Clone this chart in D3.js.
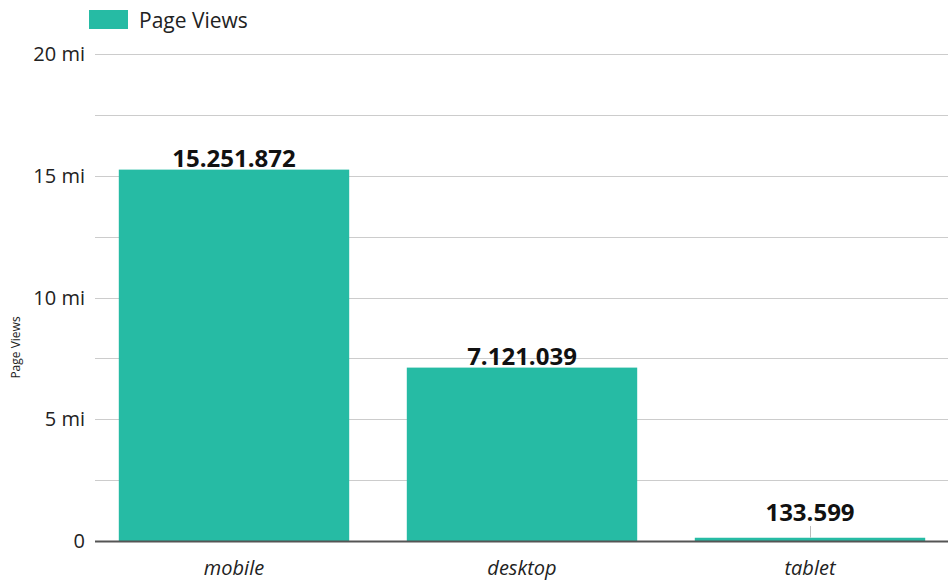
<!DOCTYPE html>
<html>
<head>
<meta charset="utf-8">
<script src="https://cdn.jsdelivr.net/npm/d3@7"></script>
<style>
  body { margin: 0; background: #fff; }
  svg { font-family: "Open Sans", sans-serif; }
</style>
</head>
<body>
<div id="chart"></div>
<script>
// data
const categories = ["mobile", "desktop", "tablet"];
const pageViews = [15251872, 7121039, 133599];
const yTicks = [0, 5000000, 10000000, 15000000, 20000000];
const yTickLabels = ["0", "5 mi", "10 mi", "15 mi", "20 mi"];
const seriesName = "Page Views";

const width = 948, height = 581;
const margin = { top: 54, right: 0, bottom: 40, left: 95 };
const barColor = "#26bba4";

const svg = d3.select("#chart").append("svg")
  .attr("width", width)
  .attr("height", height);

const x = d3.scaleBand()
  .domain(categories)
  .range([90, 954])
  .paddingInner(0.2)
  .paddingOuter(0.1);

const y = d3.scaleLinear()
  .domain([0, 20000000])
  .range([height - margin.bottom, margin.top]);

// gridlines (major + minor halfway)
const gridVals = d3.range(0, 20000001, 2500000);
svg.append("g")
  .selectAll("line")
  .data(gridVals)
  .join("line")
    .attr("x1", margin.left)
    .attr("x2", width)
    .attr("y1", d => Math.round(y(d)) + 0.5)
    .attr("y2", d => Math.round(y(d)) + 0.5)
    .attr("stroke", "#cccccc")
    .attr("stroke-width", 1);

// y axis labels
svg.append("g")
  .selectAll("text")
  .data(yTicks)
  .join("text")
    .attr("x", 85)
    .attr("y", d => y(d))
    .attr("dy", "0.35em")
    .attr("text-anchor", "end")
    .attr("font-size", 20)
    .attr("fill", "#222")
    .text((d, i) => yTickLabels[i]);

// y axis title
svg.append("text")
  .attr("transform", `translate(20, ${(y(0) + y(20000000)) / 2 + 50}) rotate(-90)`)
  .attr("text-anchor", "middle")
  .attr("font-size", 12)
  .attr("fill", "#222")
  .text(seriesName);

// bars
svg.append("g")
  .selectAll("rect")
  .data(pageViews)
  .join("rect")
    .attr("x", (d, i) => x(categories[i]))
    .attr("width", x.bandwidth())
    .attr("y", d => y(d))
    .attr("height", d => y(0) - y(d))
    .attr("fill", barColor);

// baseline
svg.append("line")
  .attr("x1", margin.left)
  .attr("x2", width)
  .attr("y1", y(0) + 0.5)
  .attr("y2", y(0) + 0.5)
  .attr("stroke", "#555")
  .attr("stroke-width", 2);

// value labels; small bars get lifted with a leader line
const fmt = d3.formatLocale({ decimal: ",", thousands: ".", grouping: [3], currency: ["", ""] }).format(",d");
const minLift = 20;
pageViews.forEach((d, i) => {
  const cx = x(categories[i]) + x.bandwidth() / 2;
  const small = y(0) - y(d) < minLift;
  const labelY = small ? y(0) - minLift : y(d) - 3;
  if (small) {
    svg.append("line")
      .attr("x1", Math.round(cx) + 0.5)
      .attr("x2", Math.round(cx) + 0.5)
      .attr("y1", labelY + 5)
      .attr("y2", y(d))
      .attr("stroke", "#bbb")
      .attr("stroke-width", 1);
  }
  svg.append("text")
    .attr("x", cx)
    .attr("y", labelY)
    .attr("text-anchor", "middle")
    .attr("font-size", 24)
    .attr("font-weight", "bold")
    .attr("fill", "#111")
    .text(fmt(d));
});

// category labels
svg.append("g")
  .selectAll("text")
  .data(categories)
  .join("text")
    .attr("x", d => x(d) + x.bandwidth() / 2)
    .attr("y", 575)
    .attr("text-anchor", "middle")
    .attr("font-size", 20)
    .attr("font-style", "italic")
    .attr("fill", "#222")
    .text(d => d);

// legend
const legend = svg.append("g");
legend.append("rect")
  .attr("x", 89).attr("y", 10)
  .attr("width", 39).attr("height", 19)
  .attr("fill", barColor);
legend.append("text")
  .attr("x", 139).attr("y", 21)
  .attr("dy", "0.35em")
  .attr("font-size", 21)
  .attr("fill", "#222")
  .text(seriesName);
</script>
</body>
</html>
